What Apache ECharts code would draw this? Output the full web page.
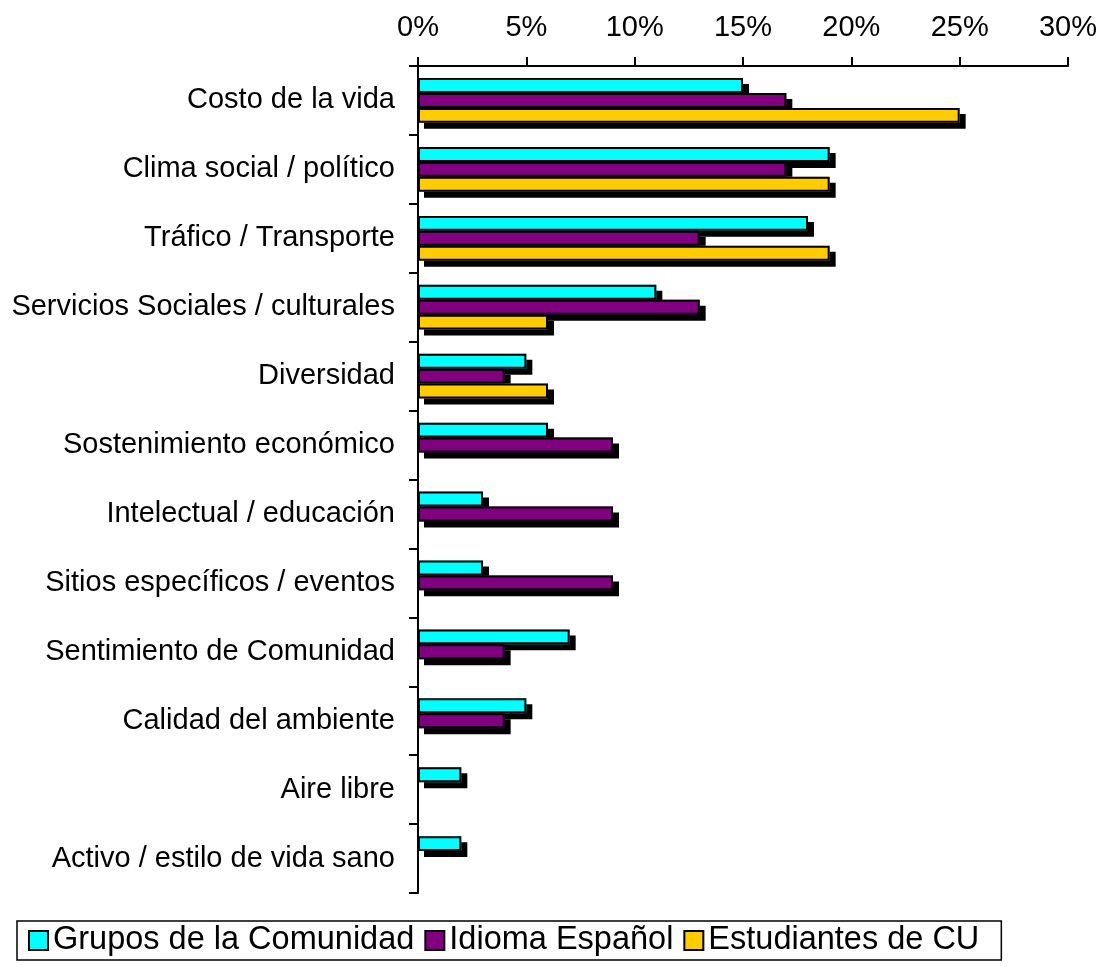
<!DOCTYPE html>
<html>
<head>
<meta charset="utf-8">
<script src="https://cdn.jsdelivr.net/npm/echarts@6/dist/echarts.min.js"></script>
<style>
html,body{margin:0;padding:0;background:#fff;}
#chart{width:1103px;height:967px;}
</style>
</head>
<body>
<div id="chart"></div>
<script>
var categories = [
  'Costo de la vida',
  'Clima social / político',
  'Tráfico / Transporte',
  'Servicios Sociales / culturales',
  'Diversidad',
  'Sostenimiento económico',
  'Intelectual / educación',
  'Sitios específicos / eventos',
  'Sentimiento de Comunidad',
  'Calidad del ambiente',
  'Aire libre',
  'Activo / estilo de vida sano'
];
var seriesNames = ['Grupos de la Comunidad', 'Idioma Español', 'Estudiantes de CU'];
var grupos = [15, 19, 18, 11, 5, 6, 3, 3, 7, 5, 2, 2];
var idioma = [17, 17, 13, 13, 4, 9, 9, 9, 4, 4, null, null];
var estudiantes = [25, 19, 19, 6, 6, null, null, null, null, null, null, null];
var xTicks = [0, 5, 10, 15, 20, 25, 30];
var colors = ['#00FFFF', '#800080', '#FFCC00'];

var font = "'Liberation Sans', Arial, sans-serif";

// fill layer (with drop shadow), drawn on yAxis 0
function fillSeries(name, data, color) {
  return {
    name: name,
    type: 'bar',
    yAxisIndex: 0,
    data: data,
    barGap: '0%',
    barCategoryGap: '35%',
    z: 2,
    itemStyle: {
      color: color,
      borderWidth: 0,
      shadowColor: '#000',
      shadowBlur: 0,
      shadowOffsetX: 6,
      shadowOffsetY: 6
    },
    emphasis: { disabled: true },
    animation: false
  };
}
// outline layer (same layout, on twin yAxis 1)
function outlineSeries(name, data) {
  return {
    name: name + ' (borde)',
    type: 'bar',
    yAxisIndex: 1,
    data: data,
    barGap: '0%',
    barCategoryGap: '35%',
    z: 3,
    itemStyle: {
      color: 'rgba(0,0,0,0)',
      borderColor: '#000',
      borderWidth: 2
    },
    emphasis: { disabled: true },
    animation: false
  };
}
var chart = echarts.init(document.getElementById('chart'), null, { renderer: 'canvas' });
var yBase = {
  type: 'category',
  data: categories,
  inverse: true
};
chart.setOption({
  backgroundColor: '#fff',
  animation: false,
  grid: { left: 418, right: 35, top: 66, bottom: 74, containLabel: false },
  xAxis: {
    type: 'value',
    position: 'top',
    min: xTicks[0],
    max: xTicks[xTicks.length - 1],
    interval: xTicks[1] - xTicks[0],
    axisLine: { show: true, lineStyle: { color: '#000', width: 2 } },
    axisTick: { show: true, inside: false, length: 9, lineStyle: { color: '#000', width: 2 } },
    splitLine: { show: false },
    axisLabel: {
      formatter: '{value}%',
      color: '#000',
      fontFamily: font,
      fontSize: 29,
      margin: 24
    }
  },
  yAxis: [
    Object.assign({}, yBase, {
      position: 'left',
      z: 5,
      axisLine: { show: true, lineStyle: { color: '#000', width: 2 } },
      axisTick: { show: true, inside: false, length: 9, lineStyle: { color: '#000', width: 2 } },
      axisLabel: {
        color: '#000',
        fontFamily: font,
        fontSize: 29,
        margin: 23
      }
    }),
    Object.assign({}, yBase, {
      position: 'left',
      show: false,
      axisLine: { show: false },
      axisTick: { show: false },
      axisLabel: { show: false }
    })
  ],
  legend: {
    left: 17,
    top: 921,
    orient: 'horizontal',
    data: seriesNames,
    icon: 'rect',
    itemWidth: 19,
    itemHeight: 19,
    itemGap: 10,
    padding: [3, 22, 3, 11],
    borderColor: '#000',
    borderWidth: 1.5,
    backgroundColor: '#fff',
    selectedMode: false,
    itemStyle: { borderColor: '#000', borderWidth: 2, shadowBlur: 0, shadowOffsetX: 0, shadowOffsetY: 0, shadowColor: 'transparent' },
    textStyle: { color: '#000', fontFamily: font, fontSize: 32.5 }
  },
  series: [
    fillSeries(seriesNames[0], grupos, colors[0]),
    fillSeries(seriesNames[1], idioma, colors[1]),
    fillSeries(seriesNames[2], estudiantes, colors[2]),
    outlineSeries(seriesNames[0], grupos),
    outlineSeries(seriesNames[1], idioma),
    outlineSeries(seriesNames[2], estudiantes)
  ]
});
</script>
</body>
</html>
